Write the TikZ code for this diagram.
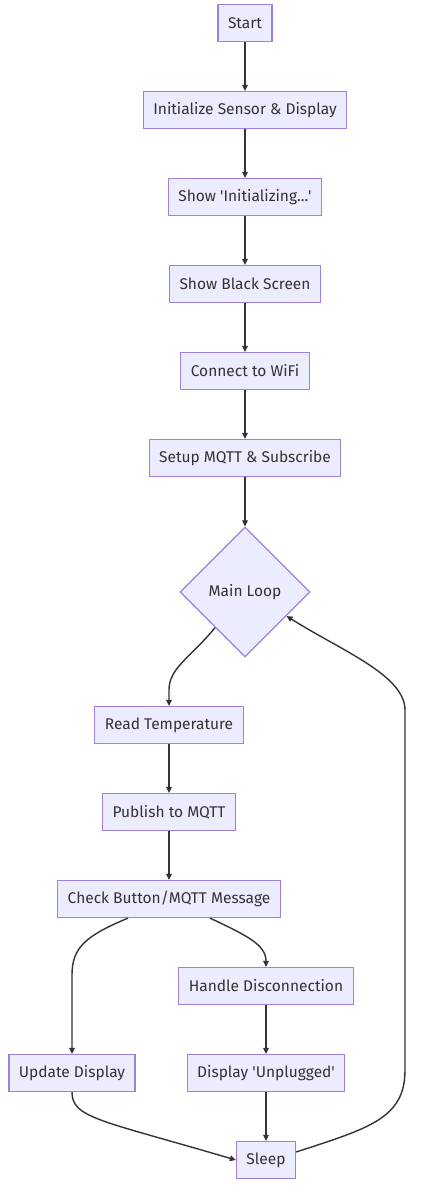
\documentclass[tikz,border=0pt]{standalone}
\usepackage{fontspec}
\setmainfont{Fira Sans}
\usetikzlibrary{shapes.geometric,arrows.meta}
\definecolor{boxfill}{HTML}{ECECFF}
\definecolor{boxline}{HTML}{9F80E0}
\definecolor{ink}{HTML}{333333}
\begin{document}
\begin{tikzpicture}[x=1pt,y=-1pt,
  stepbox/.style={draw=boxline, fill=boxfill, line width=1.2pt, text=ink,
    minimum height=37pt, inner xsep=10pt, font=\fontsize{15.5}{18}\selectfont},
  loopbox/.style={diamond, draw=boxline, fill=boxfill, line width=1.2pt, text=ink,
    minimum width=130pt, minimum height=130pt, inner sep=0pt, font=\fontsize{15.5}{18}\selectfont},
  arr/.style={-{Triangle[length=6pt,width=5.5pt]}, draw=ink, line width=1.4pt}]
\useasboundingbox (0,0) rectangle (437,1204);
% Setup column
\node[stepbox] (start)   at (245,23)  {Start};
\node[stepbox] (init)    at (245,110) {Initialize Sensor \& Display};
\node[stepbox] (showini) at (245,197) {Show \textquotesingle Initializing...\textquotesingle};
\node[stepbox] (black)   at (245,284) {Show Black Screen};
\node[stepbox] (wifi)    at (245,371) {Connect to WiFi};
\node[stepbox] (mqtt)    at (245,458) {Setup MQTT \& Subscribe};
\node[loopbox] (loop)    at (245,592) {Main Loop};
% Loop body
\node[stepbox] (temp)    at (169,725) {Read Temperature};
\node[stepbox] (pub)     at (169,812) {Publish to MQTT};
\node[stepbox] (check)   at (169,899) {Check Button/MQTT Message};
\node[stepbox] (disc)    at (266,986) {Handle Disconnection};
\node[stepbox] (upd)     at (72,1073) {Update Display};
\node[stepbox] (unpl)    at (266,1073) {Display \textquotesingle Unplugged\textquotesingle};
\node[stepbox] (sleep)   at (266,1160) {Sleep};
% Edges
\draw[arr] (start) -- (init);
\draw[arr] (init) -- (showini);
\draw[arr] (showini) -- (black);
\draw[arr] (black) -- (wifi);
\draw[arr] (wifi) -- (mqtt);
\draw[arr] (mqtt) -- (loop);
\draw[arr] (loop.-130) .. controls (190,658) and (169,668) .. (169,690) -- (temp.north);
\draw[arr] (temp) -- (pub);
\draw[arr] (pub) -- (check);
\draw[arr] ([xshift=-41pt]check.south) .. controls (85,936) and (72,948) .. (72,975) -- (upd.north);
\draw[arr] ([xshift=41pt]check.south) .. controls (248,936) and (266,945) .. (disc.north);
\draw[arr] (disc) -- (unpl);
\draw[arr] (unpl) -- (sleep);
\draw[arr] (upd.south) .. controls (72,1118) and (100,1120) .. (sleep.west);
\draw[arr] ([yshift=8pt]sleep.east) .. controls (370,1128) and (405,1118) .. (405,1070) -- (405,710)
  .. controls (405,675) and (340,650) .. (loop.-30);
\end{tikzpicture}
\end{document}
